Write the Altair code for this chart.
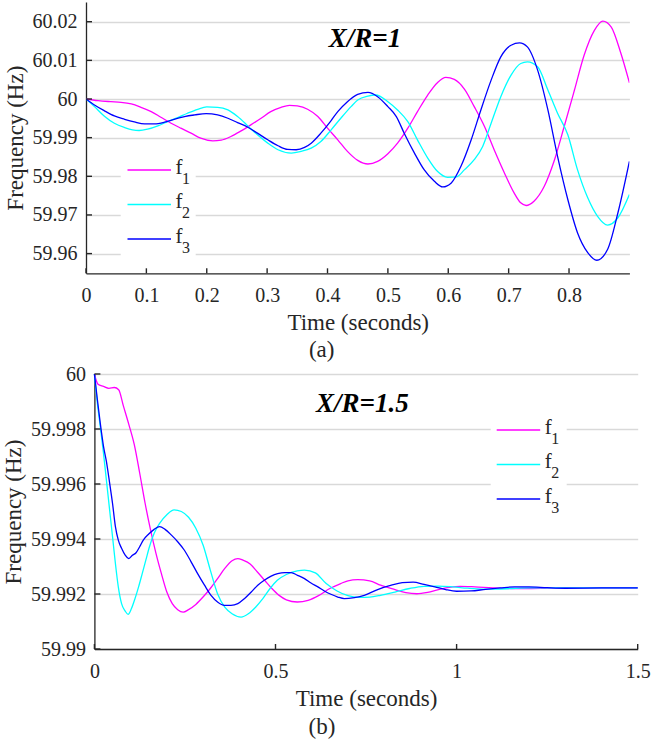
import altair as alt
import pandas as pd

FONT = "Liberation Serif"
INK = "#262626"
GRID = "#d9d9d9"
SERIES = ["f1", "f2", "f3"]
COLORS = ["#ff00ff", "#00ffff", "#0000ff"]
LEGEND_MAIN = ["f", "f", "f"]
LEGEND_SUB = ["1", "2", "3"]

# ---------------- (a) X/R = 1 ----------------
A_T1 = [0.000, 0.020, 0.041, 0.058, 0.075, 0.091, 0.108, 0.124, 0.141, 0.157, 0.174, 0.190, 0.210, 0.224,
        0.240, 0.257, 0.273, 0.290, 0.306, 0.323, 0.337, 0.350, 0.367, 0.384, 0.400, 0.417, 0.433, 0.450,
        0.467, 0.483, 0.500, 0.516, 0.533, 0.549, 0.566, 0.582, 0.596, 0.610, 0.627, 0.643, 0.660, 0.676,
        0.693, 0.709, 0.720, 0.729, 0.742, 0.759, 0.776, 0.792, 0.809, 0.825, 0.842, 0.856, 0.870, 0.886, 0.900]
A_F1 = [60.00000, 59.99957, 59.99931, 59.99914, 59.99871, 59.99785, 59.99674, 59.99528, 59.99373, 59.99245,
        59.99116, 59.98987, 59.98918, 59.98936, 59.99030, 59.99176, 59.99330, 59.99502, 59.99674, 59.99785,
        59.99837, 59.99820, 59.99734, 59.99545, 59.99245, 59.98944, 59.98644, 59.98412, 59.98318, 59.98386,
        59.98584, 59.98858, 59.99245, 59.99674, 60.00103, 60.00421, 60.00558, 60.00506, 60.00249, 59.99803,
        59.99288, 59.98687, 59.98086, 59.97571, 59.97313, 59.97245, 59.97356, 59.97742, 59.98429, 59.99288,
        60.00232, 60.01133, 60.01777, 60.02017, 60.01863, 60.01176, 60.00421]

A_T2 = [0.000, 0.014, 0.030, 0.047, 0.064, 0.077, 0.088, 0.102, 0.119, 0.135, 0.152, 0.168, 0.185, 0.200,
        0.218, 0.235, 0.251, 0.268, 0.284, 0.301, 0.318, 0.340, 0.356, 0.373, 0.389, 0.406, 0.422, 0.439,
        0.450, 0.467, 0.480, 0.500, 0.516, 0.533, 0.549, 0.566, 0.582, 0.599, 0.613, 0.627, 0.643, 0.657,
        0.671, 0.687, 0.704, 0.720, 0.731, 0.748, 0.765, 0.781, 0.798, 0.814, 0.831, 0.847, 0.864, 0.881, 0.900]
A_F2 = [60.00000, 59.99803, 59.99562, 59.99373, 59.99262, 59.99202, 59.99185, 59.99219, 59.99305, 59.99416,
        59.99519, 59.99631, 59.99734, 59.99794, 59.99785, 59.99717, 59.99545, 59.99305, 59.99073, 59.98858,
        59.98687, 59.98601, 59.98644, 59.98730, 59.98901, 59.99202, 59.99502, 59.99803, 59.99974, 60.00077,
        60.00103, 59.99931, 59.99717, 59.99416, 59.98944, 59.98472, 59.98129, 59.97974, 59.97983, 59.98172,
        59.98429, 59.98773, 59.99373, 60.00060, 60.00618, 60.00918, 60.00961, 60.00833, 60.00232, 59.99631,
        59.99073, 59.98172, 59.97442, 59.96970, 59.96738, 59.96927, 59.97528]

A_T3 = [0.000, 0.014, 0.030, 0.047, 0.064, 0.080, 0.097, 0.113, 0.130, 0.146, 0.163, 0.180, 0.199, 0.218,
        0.235, 0.251, 0.268, 0.284, 0.301, 0.318, 0.334, 0.348, 0.362, 0.373, 0.389, 0.406, 0.417, 0.433,
        0.450, 0.467, 0.483, 0.500, 0.514, 0.527, 0.544, 0.560, 0.577, 0.591, 0.605, 0.621, 0.638, 0.654,
        0.671, 0.687, 0.704, 0.718, 0.731, 0.748, 0.765, 0.781, 0.798, 0.814, 0.831, 0.846, 0.864, 0.881, 0.900]
A_F3 = [60.00000, 59.99845, 59.99700, 59.99562, 59.99476, 59.99408, 59.99356, 59.99356, 59.99399, 59.99476,
        59.99545, 59.99588, 59.99622, 59.99588, 59.99502, 59.99391, 59.99270, 59.99116, 59.98944, 59.98790,
        59.98695, 59.98687, 59.98747, 59.98858, 59.99116, 59.99442, 59.99674, 59.99931, 60.00120, 60.00172,
        60.00060, 59.99803, 59.99545, 59.99116, 59.98601, 59.98172, 59.97871, 59.97725, 59.97828, 59.98258,
        59.98944, 59.99717, 60.00489, 60.01090, 60.01391, 60.01451, 60.01348, 60.00747, 59.99717, 59.98515,
        59.97399, 59.96541, 59.96026, 59.95828, 59.96112, 59.97056, 59.98386]

A_XTICKS = [0, 0.1, 0.2, 0.3, 0.4, 0.5, 0.6, 0.7, 0.8]
A_YTICKS = [59.96, 59.97, 59.98, 59.99, 60.0, 60.01, 60.02]

# ---------------- (b) X/R = 1.5 ----------------
B_T1 = [0.000, 0.010, 0.025, 0.040, 0.055, 0.067, 0.080, 0.095, 0.110, 0.125, 0.140, 0.155, 0.170, 0.185,
        0.200, 0.215, 0.230, 0.245, 0.260, 0.280, 0.300, 0.320, 0.340, 0.360, 0.380, 0.396, 0.410, 0.430,
        0.450, 0.470, 0.490, 0.510, 0.530, 0.560, 0.590, 0.620, 0.650, 0.680, 0.700, 0.727, 0.760, 0.790,
        0.830, 0.860, 0.890, 0.920, 0.950, 0.980, 1.010, 1.050, 1.100, 1.150, 1.200, 1.250, 1.300, 1.400, 1.500]
B_F1 = [60.00000, 59.99963, 59.99955, 59.99948, 59.99951, 59.99943, 59.99884, 59.99817, 59.99744, 59.99640,
        59.99530, 59.99433, 59.99348, 59.99274, 59.99207, 59.99165, 59.99143, 59.99134, 59.99143, 59.99162,
        59.99189, 59.99220, 59.99256, 59.99293, 59.99321, 59.99329, 59.99323, 59.99309, 59.99280, 59.99250,
        59.99220, 59.99195, 59.99179, 59.99171, 59.99177, 59.99195, 59.99220, 59.99238, 59.99248, 59.99252,
        59.99248, 59.99232, 59.99216, 59.99205, 59.99201, 59.99206, 59.99216, 59.99224, 59.99228, 59.99226,
        59.99222, 59.99220, 59.99220, 59.99221, 59.99222, 59.99222, 59.99222]

B_T2 = [0.000, 0.008, 0.016, 0.025, 0.033, 0.042, 0.050, 0.058, 0.066, 0.075, 0.085, 0.093, 0.102, 0.112,
        0.122, 0.132, 0.142, 0.152, 0.165, 0.180, 0.200, 0.220, 0.240, 0.260, 0.280, 0.300, 0.320, 0.340,
        0.360, 0.380, 0.405, 0.425, 0.445, 0.465, 0.485, 0.505, 0.530, 0.560, 0.580, 0.610, 0.640, 0.670,
        0.700, 0.730, 0.760, 0.790, 0.830, 0.870, 0.910, 0.950, 0.990, 1.030, 1.070, 1.110, 1.150, 1.200,
        1.300, 1.400, 1.500]
B_F2 = [60.00000, 59.99896, 59.99811, 59.99713, 59.99616, 59.99506, 59.99409, 59.99311, 59.99226, 59.99165,
        59.99138, 59.99126, 59.99146, 59.99183, 59.99226, 59.99274, 59.99323, 59.99372, 59.99421, 59.99457,
        59.99488, 59.99506, 59.99500, 59.99479, 59.99439, 59.99378, 59.99287, 59.99201, 59.99152, 59.99128,
        59.99116, 59.99128, 59.99152, 59.99183, 59.99220, 59.99250, 59.99271, 59.99284, 59.99287, 59.99277,
        59.99238, 59.99211, 59.99194, 59.99188, 59.99189, 59.99195, 59.99207, 59.99220, 59.99228, 59.99229,
        59.99226, 59.99221, 59.99218, 59.99218, 59.99220, 59.99222, 59.99222, 59.99222, 59.99222]

B_T3 = [0.000, 0.008, 0.016, 0.025, 0.033, 0.042, 0.050, 0.058, 0.066, 0.075, 0.085, 0.095, 0.105, 0.115,
        0.125, 0.135, 0.150, 0.165, 0.180, 0.195, 0.212, 0.230, 0.248, 0.267, 0.285, 0.304, 0.322, 0.340,
        0.359, 0.377, 0.396, 0.414, 0.433, 0.451, 0.469, 0.488, 0.506, 0.525, 0.543, 0.561, 0.580, 0.598,
        0.617, 0.635, 0.653, 0.672, 0.690, 0.718, 0.745, 0.782, 0.820, 0.850, 0.880, 0.910, 0.940, 0.970,
        1.000, 1.040, 1.080, 1.120, 1.160, 1.200, 1.250, 1.300, 1.400, 1.500]
B_F3 = [60.00000, 59.99909, 59.99823, 59.99738, 59.99683, 59.99604, 59.99530, 59.99445, 59.99396, 59.99366,
        59.99341, 59.99329, 59.99341, 59.99350, 59.99372, 59.99396, 59.99418, 59.99435, 59.99445, 59.99435,
        59.99415, 59.99390, 59.99360, 59.99317, 59.99274, 59.99232, 59.99195, 59.99171, 59.99159, 59.99159,
        59.99165, 59.99183, 59.99207, 59.99232, 59.99250, 59.99265, 59.99274, 59.99278, 59.99278, 59.99268,
        59.99256, 59.99240, 59.99226, 59.99211, 59.99199, 59.99189, 59.99183, 59.99187, 59.99195, 59.99216,
        59.99232, 59.99241, 59.99243, 59.99235, 59.99226, 59.99216, 59.99210, 59.99211, 59.99217, 59.99222,
        59.99226, 59.99226, 59.99223, 59.99221, 59.99222, 59.99222]

B_XTICKS = [0, 0.5, 1.0, 1.5]
B_YTICKS = [59.99, 59.992, 59.994, 59.996, 59.998, 60.0]


def panel(ts, fs, xdom, xrng, width, height, ydom, xticks, yticks, yshift,
          note, note_t, note_f, leg, caption, cap_dx, cap_offset):
    xs = alt.Scale(domain=xdom, range=xrng, zero=False, nice=False)
    ys = alt.Scale(domain=ydom, zero=False, nice=False)
    rows = []
    for name, t, f in zip(SERIES, ts, fs):
        assert len(t) == len(f), name
        rows += [{"t": a, "f": b, "s": name} for a, b in zip(t, f)]
    df = pd.DataFrame(rows)

    xaxis = alt.Axis(values=xticks, format="~r", title="Time (seconds)", grid=False, ticks=False,
                     domainColor=INK, domainWidth=1.3, labelFont=FONT, labelFontSize=20,
                     labelColor=INK, labelPadding=12, labelFlush=False, labelOverlap=False,
                     titleFont=FONT, titleFontSize=23, titleFontWeight="normal", titleColor=INK,
                     titlePadding=6)
    ykw = dict(values=yticks, format="~r", title="Frequency (Hz)", grid=True, gridColor=GRID,
               gridWidth=1.7, ticks=False, domainColor=INK, domainWidth=1.3, labelFont=FONT,
               labelFontSize=20, labelColor=INK, labelPadding=9, labelOverlap=False,
               titleFont=FONT, titleFontSize=23, titleFontWeight="normal", titleColor=INK,
               titlePadding=5)
    if yshift:
        ykw["offset"] = -yshift
    yaxis = alt.Axis(**ykw)

    X = lambda: alt.X("t:Q", scale=xs, axis=xaxis)
    Y = lambda: alt.Y("f:Q", scale=ys, axis=yaxis)

    lines = alt.Chart(df).mark_line(strokeWidth=1.3, interpolate="monotone", clip=True).encode(
        x=X(), y=Y(),
        color=alt.Color("s:N", scale=alt.Scale(domain=SERIES, range=COLORS), legend=None),
    )
    x0 = xrng[0]
    xt = alt.Chart(pd.DataFrame({"t": xticks})).mark_rule(color=INK, strokeWidth=1.4).encode(
        x=X(), y=alt.value(height), y2=alt.value(height - 5))
    yt = alt.Chart(pd.DataFrame({"f": yticks})).mark_rule(color=INK, strokeWidth=1.4).encode(
        y=Y(), x=alt.value(x0), x2=alt.value(x0 + 6))

    note_layer = alt.Chart(pd.DataFrame({"t": [note_t], "f": [note_f], "label": [note]})).mark_text(
        font=FONT, fontSize=27, fontWeight="bold", fontStyle="italic", color="black"
    ).encode(x=X(), y=Y(), text="label:N")

    lx, ly, step, box = leg
    one = pd.DataFrame({"k": [0]})
    layers = [lines, xt, yt, note_layer,
              alt.Chart(one).mark_rect(color="white").encode(
                  x=alt.value(box[0]), x2=alt.value(box[1]), y=alt.value(box[2]), y2=alt.value(box[3]))]
    for i, (name, col, main, sub) in enumerate(zip(SERIES, COLORS, LEGEND_MAIN, LEGEND_SUB)):
        yy = ly + i * step
        layers.append(alt.Chart(one).mark_rule(color=col, strokeWidth=1.3).encode(
            x=alt.value(lx), x2=alt.value(lx + 43.5), y=alt.value(yy)))
        layers.append(alt.Chart(pd.DataFrame({"lab": [main]})).mark_text(
            align="left", baseline="alphabetic", font=FONT, fontSize=21, color=INK).encode(
            x=alt.value(lx + 48), y=alt.value(yy + 3.5), text="lab:N"))
        layers.append(alt.Chart(pd.DataFrame({"lab": [sub]})).mark_text(
            align="left", baseline="alphabetic", font=FONT, fontSize=16, color=INK).encode(
            x=alt.value(lx + 54.5), y=alt.value(yy + 13.5), text="lab:N"))

    return alt.layer(*layers).properties(
        width=width, height=height,
        title=alt.TitleParams(text=caption, orient="bottom", anchor="middle", frame="group",
                              dx=cap_dx, offset=cap_offset, font=FONT, fontSize=23,
                              fontWeight="normal", color=INK))


top = panel([A_T1, A_T2, A_T3], [A_F1, A_F2, A_F3], [0, 0.9], [0, 543.4], 543.4, 271.3,
            [59.9549, 60.0251], A_XTICKS, A_YTICKS, 0,
            "X/R=1", 0.462, 60.0155,
            (41.5, 168, 34.5, (34.7, 109.7, 150, 265)), "(a)", -36, 5)

bottom = panel([B_T1, B_T2, B_T3], [B_F1, B_F2, B_F3], [0, 1.5], [8.4, 551.7], 552, 275,
               [59.99, 60.0], B_XTICKS, B_YTICKS, 8.4,
               "X/R=1.5", 0.74, 59.9989,
               (410.7, 56, 34.5, (404.7, 480.7, 40, 140)), "(b)", -40, 6)

chart = alt.vconcat(top, bottom, spacing=1).properties(
    padding={"left": 2, "top": 2, "right": 0, "bottom": 0}
).configure_view(stroke=None)

chart.save("out.html", embed_options={"renderer": "svg", "actions": False})
